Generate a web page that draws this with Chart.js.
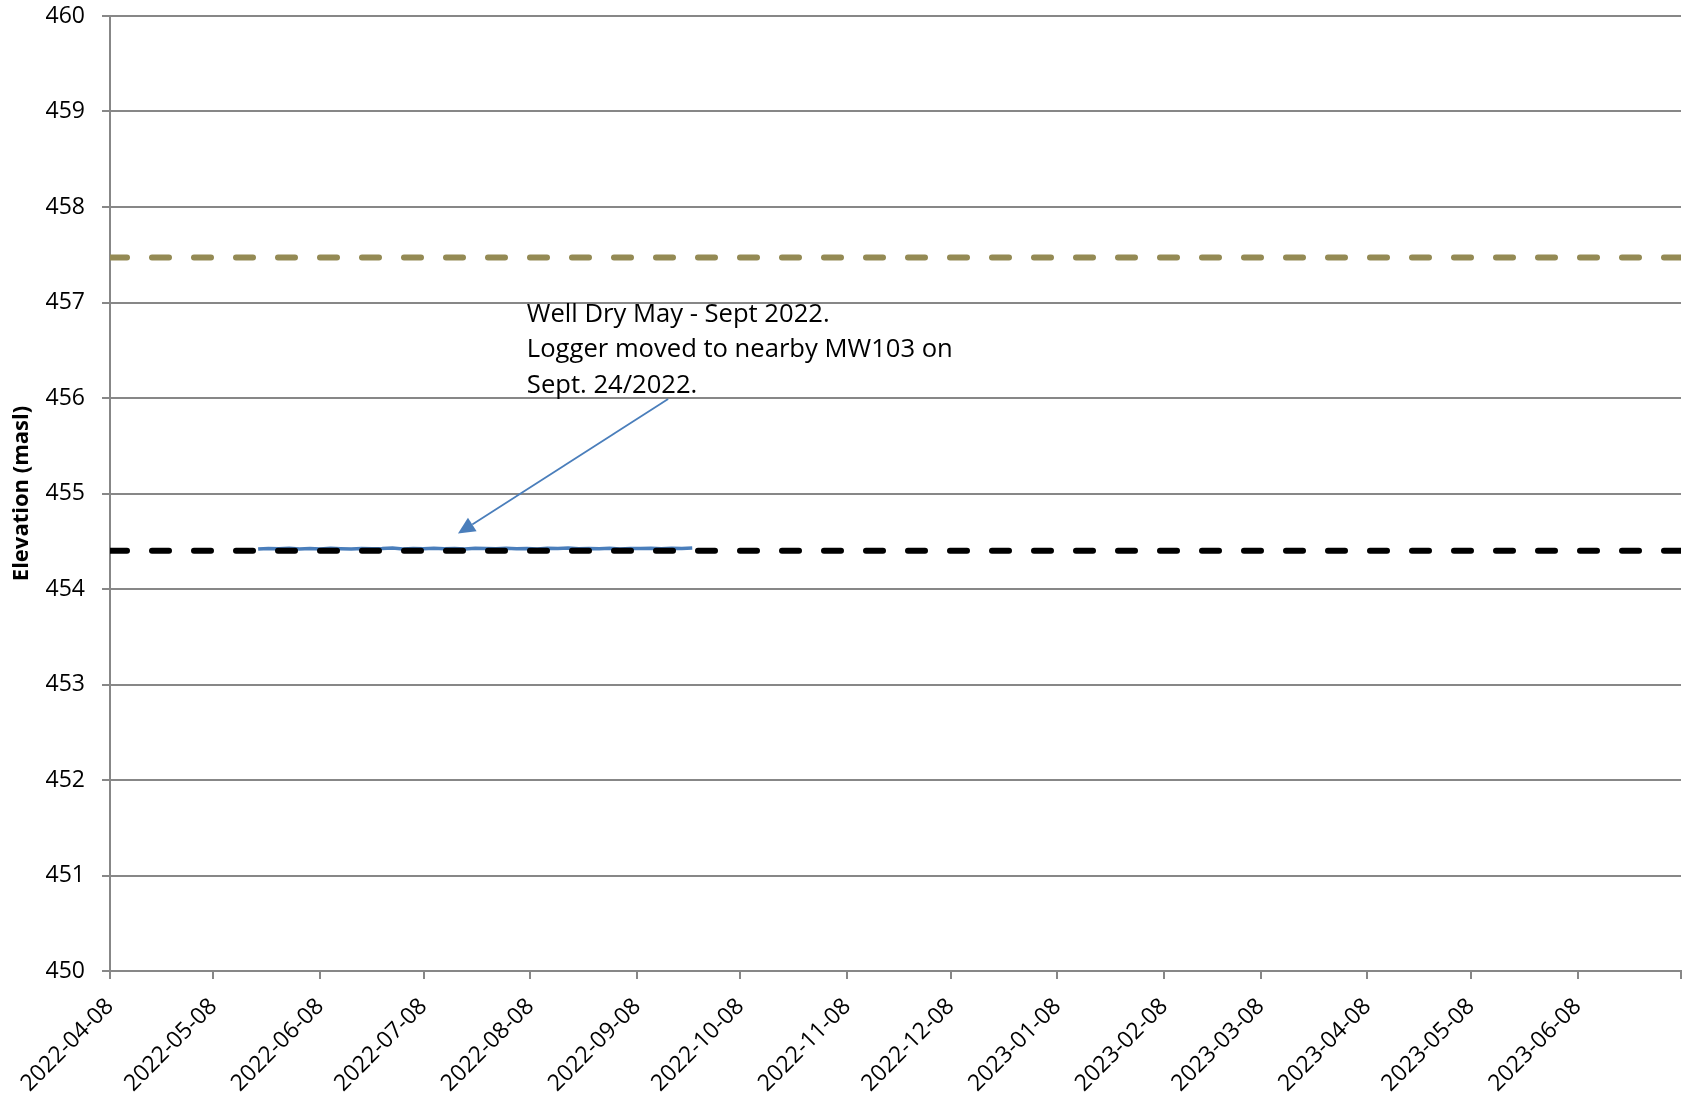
<!DOCTYPE html>
<html>
<head>
<meta charset="utf-8">
<title>Groundwater Elevation</title>
<script src="https://cdn.jsdelivr.net/npm/chart.js@4.4.1/dist/chart.umd.min.js"></script>
<style>
  html, body { margin: 0; padding: 0; background: #ffffff; }
  canvas { display: block; }
</style>
</head>
<body>
<canvas id="chart" width="1682" height="1099"></canvas>
<script>
// Logger readings (masl)
const sampleDates = [
  '2022-05-21','2022-05-24','2022-05-27','2022-05-30','2022-06-02','2022-06-05','2022-06-08',
  '2022-06-11','2022-06-14','2022-06-17','2022-06-20','2022-06-23','2022-06-26','2022-06-29',
  '2022-07-02','2022-07-05','2022-07-08','2022-07-11','2022-07-14','2022-07-17','2022-07-20',
  '2022-07-23','2022-07-26','2022-07-29','2022-08-01','2022-08-04','2022-08-07','2022-08-10',
  '2022-08-13','2022-08-16','2022-08-19','2022-08-22','2022-08-25','2022-08-28','2022-08-31',
  '2022-09-03','2022-09-06','2022-09-09','2022-09-12','2022-09-15','2022-09-18','2022-09-21',
  '2022-09-24'
];
const waterLevel = [
  454.418, 454.425, 454.421, 454.427, 454.419, 454.424, 454.420,
  454.426, 454.422, 454.418, 454.425, 454.421, 454.423, 454.428,
  454.420, 454.424, 454.422, 454.427, 454.421, 454.425, 454.419,
  454.426, 454.423, 454.421, 454.427, 454.422, 454.425, 454.420,
  454.426, 454.423, 454.428, 454.421, 454.424, 454.422, 454.426,
  454.420, 454.425, 454.423, 454.427, 454.421, 454.426, 454.424,
  454.429
];

// Horizontal reference elevations across the full period
const referenceDates = ['2022-04-08', '2023-07-08'];
const wellBottomLevel = [454.40, 454.40];
const upperLevel = [457.47, 457.47];

// Monthly axis ticks
const tickDates = [
  '2022-04-08','2022-05-08','2022-06-08','2022-07-08','2022-08-08','2022-09-08',
  '2022-10-08','2022-11-08','2022-12-08','2023-01-08','2023-02-08','2023-03-08',
  '2023-04-08','2023-05-08','2023-06-08','2023-07-08'
];
const tickLabels = [
  '2022-04-08','2022-05-08','2022-06-08','2022-07-08','2022-08-08','2022-09-08',
  '2022-10-08','2022-11-08','2022-12-08','2023-01-08','2023-02-08','2023-03-08',
  '2023-04-08','2023-05-08','2023-06-08'
];

const calloutLines = [
  'Well Dry May - Sept 2022.',
  'Logger moved to nearby MW103 on',
  'Sept. 24/2022.'
];

const FONT = "'Open Sans', 'Liberation Sans', sans-serif";
const AXIS_GREY = '#878787';

const toMs = d => Date.parse(d + 'T00:00:00Z');
const pairs = (dates, values) => dates.map((d, i) => ({ x: toMs(d), y: values[i] }));

// Text box with an arrow pointing at the logger trace
const callout = {
  id: 'callout',
  afterDatasetsDraw(chart) {
    const { ctx, scales: { x, y } } = chart;
    ctx.save();
    const tx = x.getPixelForValue(toMs('2022-08-07'));
    const ty = y.getPixelForValue(456.80);
    ctx.font = '25.6px ' + FONT;
    ctx.fillStyle = '#000000';
    ctx.textAlign = 'left';
    ctx.textBaseline = 'alphabetic';
    calloutLines.forEach((t, i) => ctx.fillText(t, tx, ty + i * 35.8));

    const x0 = x.getPixelForValue(toMs('2022-09-17'));
    const y0 = y.getPixelForValue(455.99);
    const x1 = x.getPixelForValue(toMs('2022-07-18'));
    const y1 = y.getPixelForValue(454.58);
    const ang = Math.atan2(y1 - y0, x1 - x0);
    const headLen = 17, headHalf = 8;
    const bx = x1 - headLen * Math.cos(ang);
    const by = y1 - headLen * Math.sin(ang);
    ctx.strokeStyle = '#4a7ebb';
    ctx.fillStyle = '#4a7ebb';
    ctx.lineWidth = 1.8;
    ctx.beginPath();
    ctx.moveTo(x0, y0);
    ctx.lineTo(bx, by);
    ctx.stroke();
    ctx.beginPath();
    ctx.moveTo(x1, y1);
    ctx.lineTo(bx + headHalf * Math.sin(ang), by - headHalf * Math.cos(ang));
    ctx.lineTo(bx - headHalf * Math.sin(ang), by + headHalf * Math.cos(ang));
    ctx.closePath();
    ctx.fill();
    ctx.restore();
  }
};

new Chart(document.getElementById('chart').getContext('2d'), {
  type: 'line',
  data: {
    datasets: [
      {
        label: 'Well bottom',
        data: pairs(referenceDates, wellBottomLevel),
        borderColor: '#000000',
        borderWidth: 6,
        borderDash: [17, 25],
        borderCapStyle: 'round',
        pointRadius: 0
      },
      {
        label: 'Water level',
        data: pairs(sampleDates, waterLevel),
        borderColor: '#4a7ebb',
        borderWidth: 3.5,
        pointRadius: 0,
        tension: 0
      },
      {
        label: 'Upper reference',
        data: pairs(referenceDates, upperLevel),
        borderColor: '#948a54',
        borderWidth: 6,
        borderDash: [17, 25],
        borderCapStyle: 'round',
        pointRadius: 0
      }
    ]
  },
  options: {
    responsive: false,
    animation: false,
    devicePixelRatio: 1,
    layout: { padding: { top: 16, right: 1, left: 0, bottom: 0 } },
    plugins: {
      legend: { display: false },
      tooltip: { enabled: false }
    },
    scales: {
      x: {
        type: 'linear',
        min: toMs(referenceDates[0]),
        max: toMs(referenceDates[1]),
        afterBuildTicks: s => { s.ticks = tickDates.map(d => ({ value: toMs(d) })); },
        afterFit: s => { s.height = 128; s.paddingRight = 0; s.paddingLeft = 0; },
        grid: { drawOnChartArea: false, drawTicks: true, tickLength: 8, color: AXIS_GREY, lineWidth: 2 },
        border: { color: AXIS_GREY, width: 2 },
        ticks: {
          autoSkip: false,
          minRotation: 45,
          maxRotation: 45,
          padding: 14,
          color: '#000000',
          font: { family: FONT, size: 23 },
          callback: (v, i) => tickLabels[i] ?? ''
        }
      },
      y: {
        min: 450,
        max: 460,
        afterFit: s => { s.width = 110; s.paddingTop = 0; s.paddingBottom = 0; },
        grid: { color: AXIS_GREY, lineWidth: 2, tickLength: 8 },
        border: { color: AXIS_GREY, width: 2 },
        ticks: {
          stepSize: 1,
          padding: 17,
          color: '#000000',
          font: { family: FONT, size: 23 }
        },
        title: {
          display: true,
          text: 'Elevation (masl)',
          color: '#000000',
          font: { family: FONT, size: 22, weight: 'bold' },
          padding: { top: 9, bottom: 0 }
        }
      }
    }
  },
  plugins: [callout]
});
</script>
</body>
</html>
